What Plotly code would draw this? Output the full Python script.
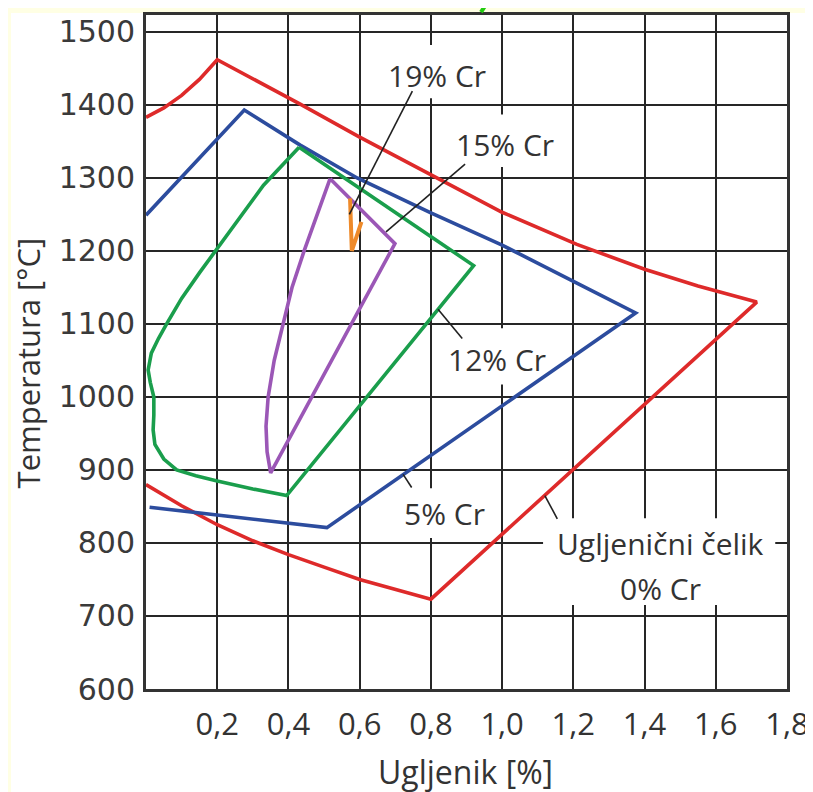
import plotly.graph_objects as go

# ---------------- data ----------------
# 0% Cr (carbon steel) - red
red_x = [0.0, 0.05, 0.1, 0.15, 0.2, 0.3, 0.433, 0.6, 0.8, 1.0, 1.21, 1.4, 1.55, 1.715,
         0.8, 0.7, 0.6, 0.5, 0.4, 0.3, 0.2, 0.1, 0.0]
red_y = [1383, 1396, 1413, 1435, 1462, 1436, 1401, 1356, 1304, 1253, 1209, 1175, 1152, 1130,
         723, 736, 750, 767, 784, 803, 825, 851, 880]

# 5% Cr - blue
blue_x = [0.0, 0.276, 0.433, 0.593, 0.8, 1.0, 1.21, 1.375, 0.508, 0.01]
blue_y = [1249, 1393, 1345, 1300, 1252, 1208, 1156, 1115, 821, 849]

# 12% Cr - green
green_x = [0.43, 0.92, 0.395, 0.3, 0.2, 0.14, 0.086, 0.05, 0.025, 0.02, 0.022, 0.022,
           0.012, 0.006, 0.015, 0.035, 0.058, 0.1, 0.15, 0.2, 0.27, 0.33, 0.43]
green_y = [1342, 1180, 865, 874, 885, 892, 900, 915, 935, 955, 975, 1000,
           1020, 1037, 1060, 1080, 1100, 1135, 1170, 1203, 1250, 1290, 1342]

# 15% Cr - purple
purple_x = [0.517, 0.699, 0.35, 0.34, 0.337, 0.343, 0.36, 0.384, 0.41, 0.444, 0.48, 0.517]
purple_y = [1299, 1210, 896, 925, 960, 1000, 1050, 1100, 1150, 1200, 1250, 1299]

# 19% Cr - orange
orange_x = [0.573, 0.578, 0.605]
orange_y = [1272, 1200, 1240]

# leader lines (start on label, end on curve)
leader_x = [[0.748, 0.571], [0.896, 0.674], [0.888, 0.82], [0.746, 0.722], [1.155, 1.12]]
leader_y = [[1419, 1250], [1319, 1226], [1080, 1120], [876, 894], [833, 865]]

# labels
label_text = ["19% Cr", "15% Cr", "12% Cr", "5% Cr", "Ugljenični čelik", "0% Cr"]
label_x = [0.817, 1.008, 0.986, 0.837, 1.444, 1.444]
label_y = [1440, 1346, 1051, 840, 799, 738]

# white boxes behind labels (cover the grid)
box_x0 = [0.657, 0.848, 0.826, 0.708, 1.115]
box_x1 = [0.980, 1.169, 1.140, 0.966, 1.767]
box_y0 = [1409, 1315, 1017, 807, 715]
box_y1 = [1482, 1387, 1094, 875, 834]

x_tickvals = [0.2, 0.4, 0.6, 0.8, 1.0, 1.2, 1.4, 1.6, 1.8]
x_ticktext = ["0,2", "0,4", "0,6", "0,8", "1,0", "1,2", "1,4", "1,6", "1,8"]
y_tickvals = [600, 700, 800, 900, 1000, 1100, 1200, 1300, 1400, 1500]

x_title = "Ugljenik [%]"
y_title = "Temperatura [°C]"

# ---------------- figure ----------------
fig = go.Figure()

def add_curve(xs, ys, color, width=3.6):
    fig.add_trace(go.Scatter(x=xs, y=ys, mode="lines",
                             line=dict(color=color, width=width),
                             hoverinfo="skip", showlegend=False))

add_curve(red_x, red_y, "#DE2A2A")
add_curve(blue_x, blue_y, "#2C4C9E")
add_curve(green_x, green_y, "#1A9E4C")
add_curve(purple_x, purple_y, "#9B57B6")
add_curve(orange_x, orange_y, "#EE8A2A", width=4)

for lx, ly in zip(leader_x, leader_y):
    add_curve(lx, ly, "#222222", width=1.6)

for x0, x1, y0, y1 in zip(box_x0, box_x1, box_y0, box_y1):
    fig.add_shape(type="rect", xref="x", yref="y", x0=x0, x1=x1, y0=y0, y1=y1,
                  fillcolor="white", line=dict(width=0), layer="between")

for t, x, y in zip(label_text, label_x, label_y):
    fig.add_annotation(x=x, y=y, xref="x", yref="y", text=t, showarrow=False,
                       font=dict(family="Open Sans", size=30, color="#333333"),
                       xanchor="center", yanchor="middle")

# axis titles (positions given in page pixels, converted to paper units)
fig.add_annotation(x=(465 - 146) / 641, y=(689 - 772) / 677, xref="paper", yref="paper",
                   text=x_title, showarrow=False, xanchor="center", yanchor="middle",
                   font=dict(family="Open Sans", size=32, color="#333333"))
fig.add_annotation(x=(28 - 146) / 641, y=(689 - 362) / 677, xref="paper", yref="paper",
                   text=y_title, showarrow=False, xanchor="center", yanchor="middle",
                   textangle=-90,
                   font=dict(family="Open Sans", size=31, color="#333333"))

# cream page strips (left and top) - as much as lies inside the figure
fig.add_shape(type="rect", xref="paper", yref="paper",
              x0=-146 / 641, x1=(11 - 146) / 641, y0=-120 / 677, y1=700 / 677,
              fillcolor="#FFFFE4", line=dict(width=0), layer="below")
fig.add_shape(type="rect", xref="paper", yref="paper",
              x0=-146 / 641, x1=(813 - 146) / 641, y0=(689 - 10) / 677, y1=700 / 677,
              fillcolor="#FFFFE4", line=dict(width=0), layer="below")
fig.add_shape(type="line", xref="paper", yref="paper",
              x0=(487 - 146) / 641, y0=689 / 677, x1=(481 - 146) / 641, y1=(689 - 9) / 677,
              line=dict(color="#22CC11", width=4), layer="above")

axis_common = dict(showgrid=True, gridcolor="#262626", gridwidth=2,
                   showline=True, linecolor="#333333", linewidth=3, mirror=True,
                   zeroline=False, ticks="")

# page has an 8px body margin: figure is 805x784 placed at (8, 8)
fig.update_layout(
    width=805, height=784,
    margin=dict(l=138, r=26, t=4, b=103),
    paper_bgcolor="white", plot_bgcolor="white",
    showlegend=False,
    xaxis=dict(range=[0, 1.8], tickvals=x_tickvals, ticktext=x_ticktext,
               tickfont=dict(family="Open Sans", size=31, color="#333333"),
               ticklabelstandoff=6, **axis_common),
    yaxis=dict(range=[600, 1523.2], tickvals=y_tickvals,
               tickfont=dict(family="DejaVu Sans", size=30, color="#3a3a3a"),
               ticklabelstandoff=2, **axis_common),
)

fig.write_html("out.html")
